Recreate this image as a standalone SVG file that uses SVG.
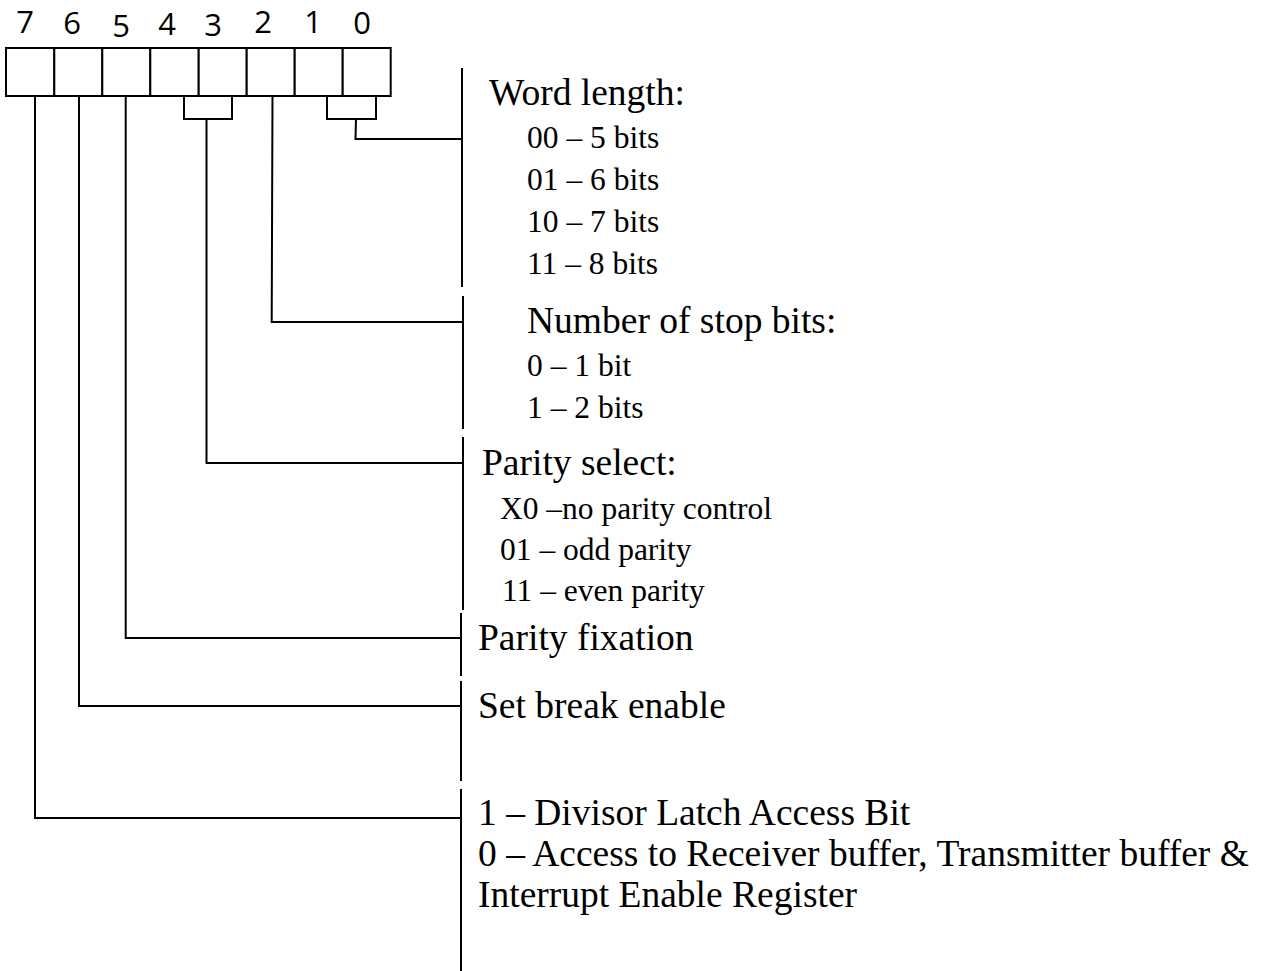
<svg xmlns="http://www.w3.org/2000/svg" width="1264" height="971" viewBox="0 0 1264 971">
<style>
.ln{fill:none;stroke:#000;stroke-width:2;stroke-linecap:square}
.cell{fill:#fff;stroke:#000;stroke-width:2}
.num{font-family:"Open Sans","Liberation Sans",sans-serif;font-size:31px;fill:#000;text-anchor:middle}
.hd{font-family:"Liberation Serif","Times New Roman",serif;font-size:37.5px;fill:#000}
.sub{font-family:"Liberation Serif","Times New Roman",serif;font-size:31.5px;fill:#000}
</style>
<rect width="1264" height="971" fill="#fff"/>
<g id="register">
<rect class="cell" x="6" y="48" width="48.3" height="48"/>
<rect class="cell" x="54.3" y="48" width="48" height="48"/>
<rect class="cell" x="102.3" y="48" width="48" height="48"/>
<rect class="cell" x="150.3" y="48" width="48.4" height="48"/>
<rect class="cell" x="198.7" y="48" width="48" height="48"/>
<rect class="cell" x="246.7" y="48" width="48" height="48"/>
<rect class="cell" x="294.7" y="48" width="48" height="48"/>
<rect class="cell" x="342.7" y="48" width="48" height="48"/>
<text class="num" x="25" y="33">7</text>
<text class="num" x="72" y="34">6</text>
<text class="num" x="121" y="37">5</text>
<text class="num" x="167" y="35">4</text>
<text class="num" x="213" y="36">3</text>
<text class="num" x="263" y="33">2</text>
<text class="num" x="313" y="33">1</text>
<text class="num" x="362" y="34">0</text>
</g>
<g id="connectors">
<path class="ln" d="M327,96 V119 H376 V96"/>
<path class="ln" d="M356,119 L355.5,139 H462"/>
<path class="ln" d="M272.5,96 L271.7,322 H463"/>
<path class="ln" d="M184,96 V119 H232 V96"/>
<path class="ln" d="M206.5,119 V463 H463"/>
<path class="ln" d="M125.7,96 V638 H461"/>
<path class="ln" d="M79,96 V706 H461"/>
<path class="ln" d="M35,96 V818 H461"/>
</g>
<g id="separators">
<line class="ln" x1="462" y1="69" x2="462" y2="286"/>
<line class="ln" x1="463" y1="297" x2="463" y2="428"/>
<line class="ln" x1="463" y1="438" x2="463" y2="609"/>
<line class="ln" x1="461" y1="614" x2="461" y2="675"/>
<line class="ln" x1="461" y1="682" x2="461" y2="780"/>
<line class="ln" x1="461" y1="790" x2="461" y2="971"/>
</g>
<g id="word-length">
<text class="hd" x="489" y="105">Word length:</text>
<text class="sub" x="527" y="148">00 – 5 bits</text>
<text class="sub" x="527" y="190">01 – 6 bits</text>
<text class="sub" x="527" y="232">10 – 7 bits</text>
<text class="sub" x="527" y="274">11 – 8 bits</text>
</g>
<g id="stop-bits">
<text class="hd" x="527" y="333">Number of stop bits:</text>
<text class="sub" x="527" y="376">0 – 1 bit</text>
<text class="sub" x="527" y="418">1 – 2 bits</text>
</g>
<g id="parity-select">
<text class="hd" x="482" y="475">Parity select:</text>
<text class="sub" x="500" y="519">X0 –no parity control</text>
<text class="sub" x="500" y="560">01 – odd parity</text>
<text class="sub" x="502" y="601">11 – even parity</text>
</g>
<g id="parity-fixation">
<text class="hd" x="478" y="650">Parity fixation</text>
</g>
<g id="set-break">
<text class="hd" x="478" y="718">Set break enable</text>
</g>
<g id="dlab">
<text class="hd" x="478" y="825">1 – Divisor Latch Access Bit</text>
<text class="hd" x="478" y="866">0 – Access to Receiver buffer, Transmitter buffer &amp;</text>
<text class="hd" x="478" y="907">Interrupt Enable Register</text>
</g>
</svg>
